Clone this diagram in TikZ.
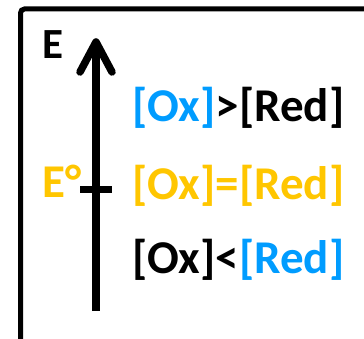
\documentclass[tikz,border=0pt]{standalone}
\usepackage{fontspec}
\setmainfont{Carlito}
\usetikzlibrary{arrows.meta}
\definecolor{oxblue}{RGB}{0,156,255}
\definecolor{eogold}{RGB}{255,198,0}
\tikzset{
  lbl/.style={anchor=base west, inner sep=0pt, font=\fontsize{47}{56}\selectfont\bfseries},
  frameline/.style={line width=5pt, rounded corners=4pt},
  axisline/.style={line width=7.5pt, line cap=butt},
  headline/.style={line width=7.5pt, line cap=round, line join=round}
}
\begin{document}
\begin{tikzpicture}[x=1pt,y=-1pt]
\useasboundingbox (0,0) rectangle (364,339);
\begin{scope}
\clip (0,0) rectangle (364,339);
\coordinate (fb) at (20.5,360);
\coordinate (fc) at (20.5,9);
\coordinate (fr) at (380,9);
\draw[frameline] (fb) -- (fc) -- (fr);
\end{scope}
% axis
\coordinate (ab) at (96,311);
\coordinate (at) at (96,42);
\coordinate (hl) at (80,72);
\coordinate (hr) at (112,72);
\draw[axisline] (ab) -- (at);
\draw[headline] (hl) -- (at) -- (hr);
% tick
\coordinate (tl) at (80,190);
\coordinate (tr) at (112,190);
\draw[line width=7pt] (tl) -- (tr);
% labels
\node[lbl, font=\fontsize{43}{52}\selectfont\bfseries] (E) at (42,59) {E};
\node[lbl, text=eogold] (Eo) at (42,198) {E°};
\node[lbl] (top) at (132,122) {\textcolor{oxblue}{[Ox]}>[Red]};
\node[lbl, text=eogold] (mid) at (132,200) {[Ox]=[Red]};
\node[lbl] (bot) at (132,273) {[Ox]<\textcolor{oxblue}{[Red]}};
\end{tikzpicture}
\end{document}
